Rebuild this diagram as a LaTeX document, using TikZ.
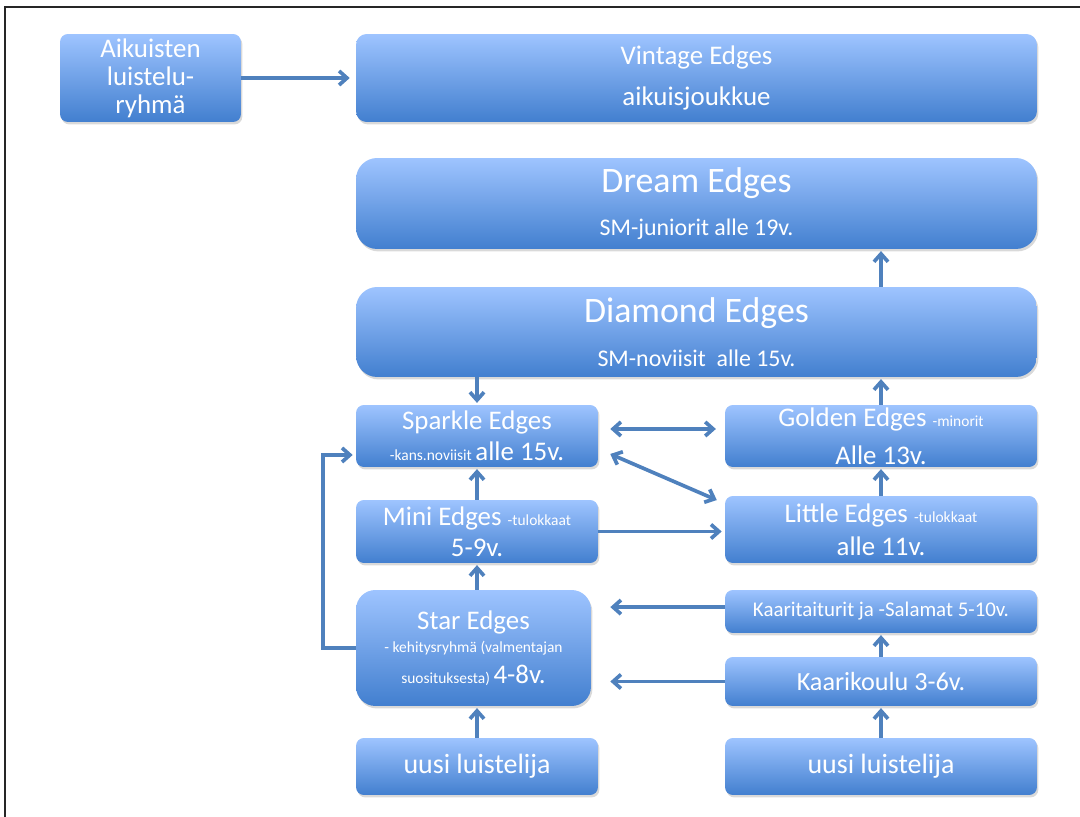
\documentclass[tikz,border=0pt]{standalone}
\usepackage{fontspec}
\setmainfont{Carlito}
\usetikzlibrary{arrows.meta,shadows}
\definecolor{boxtop}{RGB}{158,196,255}
\definecolor{boxbottom}{RGB}{66,127,207}
\definecolor{arrowblue}{RGB}{79,129,189}
\begin{document}
\begin{tikzpicture}[x=0.02cm, y=-0.02cm,
    box/.style={rectangle, rounded corners=4.5pt, top color=boxtop, bottom color=boxbottom,
        text=white, align=center, inner sep=0pt,
        drop shadow={shadow xshift=0.8pt, shadow yshift=-1.4pt, opacity=0.3}},
    arr/.style={draw=arrowblue, line width=2.1pt, shorten >=1pt,
        -{Straight Barb[length=4.5pt, width=8pt]}},
    twoway/.style={arr, {Straight Barb[length=4.5pt, width=8pt]}-{Straight Barb[length=4.5pt, width=8pt]}}]
        \useasboundingbox (0,0) rectangle (1080,817);
        % Frame of the slide
        \draw[black!85, line width=1pt] (5,817) -- (5,7) -- (1080,7);

        % Draw the top row
        \node[box, minimum width=3.62cm, minimum height=1.76cm, font=\fontsize{15.3}{15.9}\selectfont] (adults) at (150.5, 78) {Aikuisten\\luistelu-\\ryhmä};
        \node[box, rounded corners=6pt, minimum width=13.62cm, minimum height=1.76cm, font=\fontsize{15.3}{23.2}\selectfont] (vintage) at (696.5, 78) {Vintage Edges\\aikuisjoukkue};

        % Draw the wide boxes
        \node[box, rounded corners=12pt, minimum width=13.62cm, minimum height=1.82cm, font=\fontsize{13.6}{24.8}\selectfont] (dream) at (696.5, 203.5) {{\fontsize{20.4}{24.8}\selectfont Dream Edges}\\SM-juniorit alle 19v.};
        \node[box, rounded corners=12pt, minimum width=13.62cm, minimum height=1.8cm, font=\fontsize{13.6}{25.4}\selectfont] (diamond) at (696.5, 332) {{\fontsize{20.4}{25.4}\selectfont Diamond Edges}\\SM-noviisit~ alle 15v.};

        % Draw the left column
        \node[box, minimum width=4.84cm, minimum height=1.24cm, font=\fontsize{15.3}{17.9}\selectfont] (sparkle) at (477, 436) {Sparkle Edges\\{\fontsize{8.8}{10}\selectfont -kans.noviisit }alle 15v.};
        \node[box, minimum width=4.84cm, minimum height=1.26cm, font=\fontsize{15.3}{17.6}\selectfont] (mini) at (477, 531.5) {Mini Edges {\fontsize{8.8}{10}\selectfont -tulokkaat}\\5-9v.};
        \node[box, rounded corners=11pt, minimum width=4.7cm, minimum height=2.32cm, font=\fontsize{8.8}{13}\selectfont] (star) at (473.5, 648) {{\fontsize{15.3}{13}\selectfont Star Edges}\\- kehitysryhmä (valmentajan\\[4.6pt]suosituksesta) {\fontsize{15.3}{13}\selectfont 4-8v.}};
        \node[box, minimum width=4.84cm, minimum height=1.14cm, font=\fontsize{15.9}{18}\selectfont] (newleft) at (477, 766.5) {uusi luistelija};

        % Draw the right column
        \node[box, minimum width=6.24cm, minimum height=1.24cm, font=\fontsize{15.3}{21.5}\selectfont] (golden) at (881, 436) {Golden Edges {\fontsize{8.8}{10}\selectfont -minorit}\\Alle 13v.};
        \node[box, minimum width=6.24cm, minimum height=1.34cm, font=\fontsize{15.3}{18.7}\selectfont] (little) at (881, 529.5) {Little Edges {\fontsize{8.8}{10}\selectfont -tulokkaat}\\alle 11v.};
        \node[box, minimum width=6.24cm, minimum height=0.86cm, font=\fontsize{11.9}{14}\selectfont] (taiturit) at (881, 611.5) {Kaaritaiturit ja -Salamat 5-10v.};
        \node[box, minimum width=6.24cm, minimum height=0.98cm, font=\fontsize{14.9}{17}\selectfont] (kaarikoulu) at (881, 681.5) {Kaarikoulu 3-6v.};
        \node[box, minimum width=6.24cm, minimum height=1.14cm, font=\fontsize{15.9}{18}\selectfont] (newright) at (881, 766.5) {uusi luistelija};

        % Draw the arrows
        \draw[arr, shorten >=3.4pt] (adults.east) -- (vintage.west);
        \draw[arr] (diamond.north -| golden.north) -- (dream.south -| golden.north);
        \draw[arr] (diamond.south -| sparkle.north) -- (sparkle.north);
        \draw[arr] (golden.north) -- (diamond.south -| golden.north);
        \draw[twoway, shorten <=6.8pt, shorten >=5pt] ([yshift=4pt]sparkle.east) -- ([yshift=4pt]sparkle.east -| golden.west);
        \draw[twoway, shorten <=7.4pt, shorten >=4.9pt] ([yshift=-7.3pt]sparkle.east) -- ([yshift=14.8pt]little.west);
        \draw[arr] (mini.north) -- (sparkle.south);
        \draw[arr, shorten >=1.7pt] (mini.east) -- (mini.east -| little.west);
        \draw[arr] (little.north) -- (golden.south);
        \draw[arr] (star.north -| mini.north) -- (mini.south);
        \draw[arr, shorten >=1.7pt] (star.west) -- ++(-33,0) |- ([yshift=-10.8pt]sparkle.west);
        \draw[arr, shorten >=10.8pt] ([yshift=2.5pt]taiturit.west) -- ([yshift=2.5pt]taiturit.west -| star.east);
        \draw[arr, shorten >=10.8pt] (kaarikoulu.west) -- (kaarikoulu.west -| star.east);
        \draw[arr] (kaarikoulu.north) -- (taiturit.south);
        \draw[arr] (newleft.north) -- (newleft.north |- star.south);
        \draw[arr] (newright.north) -- (kaarikoulu.south);
\end{tikzpicture}
\end{document}
